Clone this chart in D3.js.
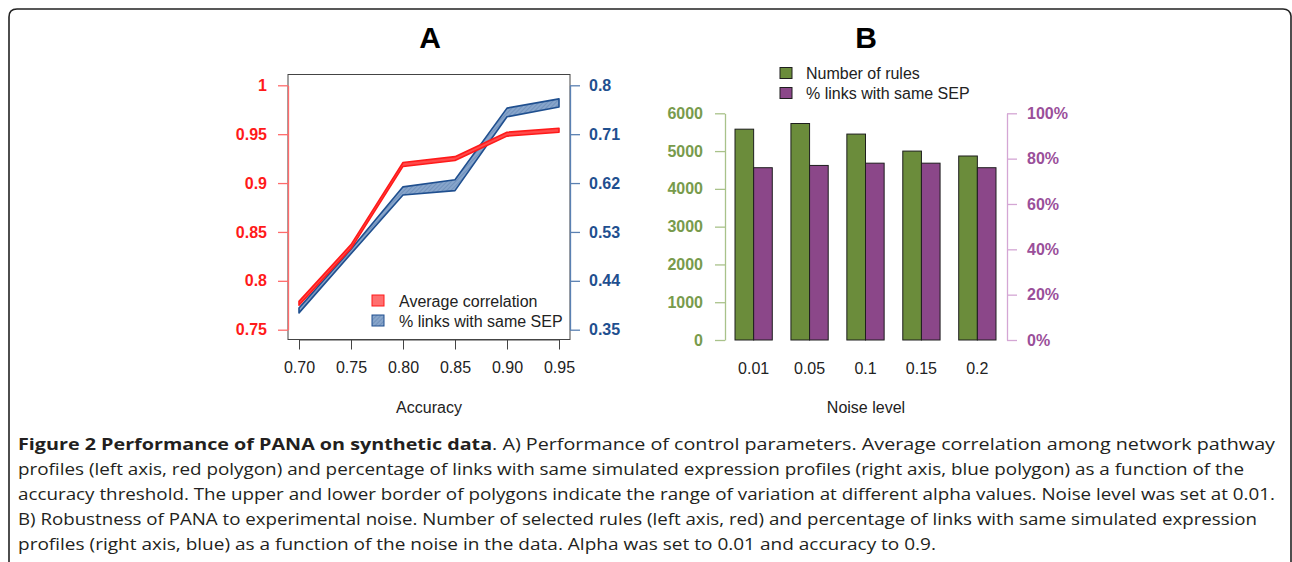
<!DOCTYPE html>
<html>
<head>
<meta charset="utf-8">
<script src="https://cdn.jsdelivr.net/npm/d3@7"></script>
<style>
  body { margin: 0; background: #fff; }
  svg { display: block; }
  text { font-family: "Liberation Sans", Arial, sans-serif; }
  .caption { font-family: "Open Sans", "Noto Sans", sans-serif; font-size: 16.5px; fill: #231f20; }
</style>
</head>
<body>
<div id="chart"></div>
<script>
// panel A: accuracy threshold vs correlation / % links
const accuracy = [0.70, 0.75, 0.80, 0.85, 0.90, 0.95];
const corrUpper = [0.779, 0.837, 0.921, 0.927, 0.952, 0.956];
const corrLower = [0.775, 0.833, 0.917, 0.923, 0.948, 0.952];
const linksUpper = [0.390, 0.498, 0.613, 0.626, 0.758, 0.775];
const linksLower = [0.381, 0.490, 0.598, 0.606, 0.742, 0.760];
const corrTicks = [0.75, 0.8, 0.85, 0.9, 0.95, 1];
const linksTicks = [0.35, 0.44, 0.53, 0.62, 0.71, 0.8];

// panel B: noise level bars
const noise = ["0.01", "0.05", "0.1", "0.15", "0.2"];
const nRules = [5580, 5730, 5450, 5000, 4870];
const pctLinks = [76, 77, 78, 78, 76];
const rulesTicks = [0, 1000, 2000, 3000, 4000, 5000, 6000];
const pctTicks = [0, 20, 40, 60, 80, 100];

const captionLines = [
  { bold: "Figure 2 Performance of PANA on synthetic data", rest: ". A) Performance of control parameters. Average correlation among network pathway", w: 1257 },
  { bold: "", rest: "profiles (left axis, red polygon) and percentage of links with same simulated expression profiles (right axis, blue polygon) as a function of the", w: 1226 },
  { bold: "", rest: "accuracy threshold. The upper and lower border of polygons indicate the range of variation at different alpha values. Noise level was set at 0.01.", w: 1257 },
  { bold: "", rest: "B) Robustness of PANA to experimental noise. Number of selected rules (left axis, red) and percentage of links with same simulated expression", w: 1239 },
  { bold: "", rest: "profiles (right axis, blue) as a function of the noise in the data. Alpha was set to 0.01 and accuracy to 0.9.", w: 918 }
];

const W = 1292, H = 562;
const svg = d3.select("#chart").append("svg")
    .attr("width", W)
    .attr("height", H);

// outer frame with rounded top corners
svg.append("path")
    .attr("d", "M9,575 L9,17 Q9,9 17,9 L1283,9 Q1290,9 1291,16 L1291,575")
    .attr("fill", "none")
    .attr("stroke", "#222")
    .attr("stroke-width", 1.6);

// ---------- panel A ----------
const red = "#ff1a1a", blue = "#1f4f8f";
const xA = d3.scaleLinear().domain([0.70, 0.95]).range([299, 559]);
const yL = d3.scaleLinear().domain([0.75, 1]).range([329.7, 85.3]);
const yR = d3.scaleLinear().domain([0.35, 0.8]).range([329.7, 85.3]);

const gA = svg.append("g");

gA.append("text")
    .attr("x", 430).attr("y", 48)
    .attr("text-anchor", "middle")
    .style("font-size", "30px").style("font-weight", "bold")
    .text("A");

// box
gA.append("rect")
    .attr("x", 288).attr("y", 74.5)
    .attr("width", 282).attr("height", 265)
    .attr("fill", "none").attr("stroke", "#444").attr("stroke-width", 1);

// hatch pattern for blue band
const defs = svg.append("defs");
const pat = defs.append("pattern")
    .attr("id", "hatch")
    .attr("patternUnits", "userSpaceOnUse")
    .attr("width", 3).attr("height", 3)
    .attr("patternTransform", "rotate(45)");
pat.append("rect").attr("width", 3).attr("height", 3).attr("fill", "#87a5cb");
pat.append("line").attr("x1", 0).attr("y1", 0).attr("x2", 0).attr("y2", 3)
    .attr("stroke", "#5d7fae").attr("stroke-width", 1);

const bandA = (up, lo, y) => d3.area()
    .x((d, i) => xA(accuracy[i]))
    .y0((d, i) => y(lo[i]))
    .y1((d, i) => y(up[i]));

gA.append("path")
    .datum(accuracy)
    .attr("d", bandA(linksUpper, linksLower, yR))
    .attr("fill", "url(#hatch)")
    .attr("stroke", blue).attr("stroke-width", 1.6)
    .attr("stroke-linejoin", "round");

gA.append("path")
    .datum(accuracy)
    .attr("d", bandA(corrUpper, corrLower, yL))
    .attr("fill", "#ff4a4a")
    .attr("stroke", red).attr("stroke-width", 1.6)
    .attr("stroke-linejoin", "round");

// left axis
const axL = gA.append("g")
    .attr("transform", "translate(288,0)")
    .call(d3.axisLeft(yL).tickValues(corrTicks).tickSize(10).tickSizeOuter(0).tickPadding(11)
        .tickFormat(d => d === 1 ? "1" : d3.format("")(d)));
axL.select(".domain").attr("stroke", "#ff6b6b").attr("stroke-width", 1.3);
axL.selectAll(".tick line").attr("stroke", "#ff6b6b").attr("stroke-width", 1.3);
axL.selectAll(".tick text").attr("fill", red)
    .style("font-size", "16px").style("font-weight", "bold")
    .style("font-family", "Liberation Sans, Arial, sans-serif");

// right axis
const axR = gA.append("g")
    .attr("transform", "translate(570,0)")
    .call(d3.axisRight(yR).tickValues(linksTicks).tickSize(10).tickSizeOuter(0).tickPadding(9)
        .tickFormat(d3.format("")));
axR.select(".domain").attr("stroke", "#5a80b2").attr("stroke-width", 1.3);
axR.selectAll(".tick line").attr("stroke", "#5a80b2").attr("stroke-width", 1.3);
axR.selectAll(".tick text").attr("fill", blue)
    .style("font-size", "16px").style("font-weight", "bold")
    .style("font-family", "Liberation Sans, Arial, sans-serif");

// bottom axis
const axB = gA.append("g")
    .attr("transform", "translate(0,339.5)")
    .call(d3.axisBottom(xA).tickValues(accuracy).tickSize(10).tickSizeOuter(0).tickPadding(12)
        .tickFormat(d3.format(".2f")));
axB.select(".domain").attr("stroke", "#444");
axB.selectAll(".tick line").attr("stroke", "#444");
axB.selectAll(".tick text").attr("fill", "#222")
    .style("font-size", "16px")
    .style("font-family", "Liberation Sans, Arial, sans-serif");

gA.append("text")
    .attr("x", 429).attr("y", 413)
    .attr("text-anchor", "middle")
    .style("font-size", "16px").attr("fill", "#222")
    .text("Accuracy");

// legend A
const legA = [
  { label: "Average correlation", fill: "#ff6f6f", stroke: red },
  { label: "% links with same SEP", fill: "url(#hatch)", stroke: blue }
];
legA.forEach((d, i) => {
  gA.append("rect")
      .attr("x", 372).attr("y", 295 + i * 20)
      .attr("width", 12).attr("height", 11)
      .attr("fill", d.fill).attr("stroke", d.stroke).attr("stroke-width", 1);
  gA.append("text")
      .attr("x", 399).attr("y", 307 + i * 20)
      .style("font-size", "16px").attr("fill", "#222")
      .text(d.label);
});

// ---------- panel B ----------
const green = "#6b8c3b", purple = "#8b4789";
const xB = d3.scaleBand().domain(noise).range([735, 996]).paddingInner(1 / 3).paddingOuter(0);
const xSub = d3.scaleBand().domain(["rules", "pct"]).range([0, xB.bandwidth()]);
const yRules = d3.scaleLinear().domain([0, 6000]).range([340, 113.3]);
const yPct = d3.scaleLinear().domain([0, 100]).range([340, 113.3]);

const gB = svg.append("g");

gB.append("text")
    .attr("x", 866).attr("y", 48)
    .attr("text-anchor", "middle")
    .style("font-size", "30px").style("font-weight", "bold")
    .text("B");

const groups = gB.selectAll(".grp")
    .data(noise)
    .join("g")
    .attr("class", "grp")
    .attr("transform", d => `translate(${xB(d)},0)`);

groups.append("rect")
    .attr("x", xSub("rules"))
    .attr("y", (d, i) => yRules(nRules[i]))
    .attr("width", xSub.bandwidth())
    .attr("height", (d, i) => yRules(0) - yRules(nRules[i]))
    .attr("fill", green).attr("stroke", "#1e1e1e").attr("stroke-width", 1);

groups.append("rect")
    .attr("x", xSub("pct"))
    .attr("y", (d, i) => yPct(pctLinks[i]))
    .attr("width", xSub.bandwidth())
    .attr("height", (d, i) => yPct(0) - yPct(pctLinks[i]))
    .attr("fill", purple).attr("stroke", "#1e1e1e").attr("stroke-width", 1);

// left axis (rules)
const axBL = gB.append("g")
    .attr("transform", "translate(725,0)")
    .call(d3.axisLeft(yRules).tickValues(rulesTicks).tickSize(10).tickSizeOuter(0).tickPadding(12)
        .tickFormat(d3.format("d")));
axBL.select(".domain").attr("stroke", "#a9c28a").attr("stroke-width", 1.3);
axBL.selectAll(".tick line").attr("stroke", "#a9c28a").attr("stroke-width", 1.3);
axBL.selectAll(".tick text").attr("fill", "#789b4c")
    .style("font-size", "16px").style("font-weight", "bold")
    .style("font-family", "Liberation Sans, Arial, sans-serif");

// right axis (percent)
const axBR = gB.append("g")
    .attr("transform", "translate(1007,0)")
    .call(d3.axisRight(yPct).tickValues(pctTicks).tickSize(10).tickSizeOuter(0).tickPadding(10)
        .tickFormat(d => d + "%"));
axBR.select(".domain").attr("stroke", "#d4a6d4").attr("stroke-width", 1.3);
axBR.selectAll(".tick line").attr("stroke", "#d4a6d4").attr("stroke-width", 1.3);
axBR.selectAll(".tick text").attr("fill", "#9a4f9a")
    .style("font-size", "16px").style("font-weight", "bold")
    .style("font-family", "Liberation Sans, Arial, sans-serif");

// category labels
gB.selectAll(".nlab")
    .data(noise)
    .join("text")
    .attr("class", "nlab")
    .attr("x", d => xB(d) + xB.bandwidth() / 2)
    .attr("y", 374)
    .attr("text-anchor", "middle")
    .style("font-size", "16px").attr("fill", "#222")
    .text(d => d);

gB.append("text")
    .attr("x", 866).attr("y", 413)
    .attr("text-anchor", "middle")
    .style("font-size", "16px").attr("fill", "#222")
    .text("Noise level");

// legend B
const legB = [
  { label: "Number of rules", fill: green },
  { label: "% links with same SEP", fill: purple }
];
legB.forEach((d, i) => {
  gB.append("rect")
      .attr("x", 780).attr("y", 67.5 + i * 20)
      .attr("width", 12).attr("height", 11)
      .attr("fill", d.fill).attr("stroke", "#1e1e1e").attr("stroke-width", 1);
  gB.append("text")
      .attr("x", 806).attr("y", 79 + i * 20)
      .style("font-size", "16px").attr("fill", "#222")
      .text(d.label);
});

// ---------- caption ----------
captionLines.forEach((ln, i) => {
  const t = svg.append("text")
      .attr("class", "caption")
      .attr("x", 18)
      .attr("y", 450 + i * 25)
      .attr("textLength", ln.w)
      .attr("lengthAdjust", "spacingAndGlyphs");
  if (ln.bold) t.append("tspan").style("font-weight", "bold").text(ln.bold);
  t.append("tspan").text(ln.rest);
});
</script>
</body>
</html>
